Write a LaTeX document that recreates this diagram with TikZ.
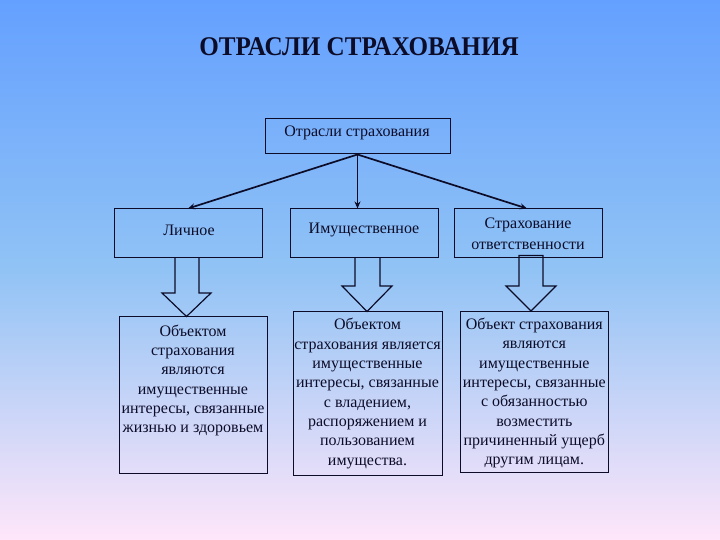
\documentclass[tikz,border=0pt]{standalone}
\usepackage{fontspec}
\setmainfont{Liberation Serif}
\newfontfamily\titlefont[FakeStretch=0.93]{Liberation Serif}
\usetikzlibrary{arrows.meta,calc}
\definecolor{bgtop}{RGB}{100,160,255}
\definecolor{bgmid}{RGB}{145,195,245}
\definecolor{bgbot}{RGB}{255,230,250}
\definecolor{ink}{RGB}{12,12,40}
\tikzset{
  box/.style={draw=ink, line width=1pt, inner sep=0pt},
  txt/.style={text=ink, font=\fontsize{16}{19.3}\selectfont, align=center, inner sep=0pt},
  link/.style={draw=ink, line width=1.7pt, -{Stealth[length=7pt,width=6pt]}},
  blockarrow/.style={draw=ink, line width=1.2pt, line join=miter}
}
\begin{document}
\begin{tikzpicture}[x=1pt,y=-1pt]
\shade[top color=bgtop, bottom color=bgmid] (0,0) rectangle (720,270);
\shade[top color=bgmid, bottom color=bgbot] (0,270) rectangle (720,540);
\useasboundingbox (0,0) rectangle (720,540);

\node[text=ink, font=\titlefont\bfseries\fontsize{27}{30}\selectfont, inner sep=0pt] (title) at (359,47) {ОТРАСЛИ СТРАХОВАНИЯ};

\node[box, minimum width=185pt, minimum height=35pt] (top) at (357.5,136.5) {};
\node[txt] (ttop) at (357,133) {Отрасли страхования};

\node[box, minimum width=148.5pt, minimum height=48pt] (b1) at (188.5,233) {};
\node[box, minimum width=148pt, minimum height=48pt] (b2) at (364.5,233) {};
\node[box, minimum width=148pt, minimum height=48pt] (b3) at (528.5,233) {};
\node[txt] (t1) at (189,230) {Личное};
\node[txt] (t2) at (364,230) {Имущественное};
\node[txt, font=\fontsize{16}{20.5}\selectfont] (t3) at (528,234) {Страхование\\ответственности};

\node[box, minimum width=147.6pt, minimum height=157pt] (c1) at (193.2,394.5) {};
\node[box, minimum width=149pt, minimum height=163.4pt] (c2) at (367.5,393.3) {};
\node[box, minimum width=147.5pt, minimum height=161pt] (c3) at (534.3,391.5) {};
\node[txt] (u1) at (193,380.5) {Объектом\\страхования\\являются\\имущественные\\интересы, связанные\\жизнью и здоровьем};
\node[txt] (u2) at (367.5,393.5) {Объектом\\страхования является\\имущественные\\интересы, связанные\\с владением,\\распоряжением и\\пользованием\\имущества.};
\node[txt] (u3) at (534.3,393.2) {Объект страхования\\являются\\имущественные\\интересы, связанные\\с обязанностью\\возместить\\причиненный ущерб\\другим лицам.};

\draw[link] (top.south) -- ([xshift=-0.5pt]b1.north);
\draw[link] (top.south) -- (top.south |- b2.north);
\draw[link] (top.south) -- ([xshift=-1.5pt]b3.north);

\draw[blockarrow] (175,257) -- (175,293) -- (162,293) -- (186.5,316.5) -- (211,293) -- (199,293) -- (199,257);
\draw[blockarrow] (355,257) -- (355,286) -- (342,286) -- (367,311.5) -- (392,286) -- (380,286) -- (380,257);
\draw[blockarrow] (519,255.5) -- (519,286) -- (506,286) -- (531,311) -- (556,286) -- (543,286) -- (543,255.5) -- cycle;
\end{tikzpicture}
\end{document}
